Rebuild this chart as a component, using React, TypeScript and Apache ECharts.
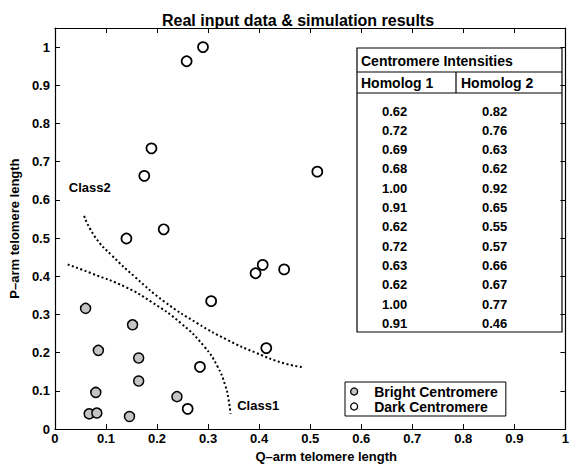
import React, { useEffect, useRef } from "react";
import * as echarts from "echarts";

const brightPoints: number[][] = [
  [0.06, 0.316], [0.085, 0.206], [0.152, 0.273], [0.164, 0.186], [0.164, 0.126],
  [0.08, 0.096], [0.239, 0.085], [0.067, 0.04], [0.082, 0.042], [0.146, 0.033],
];
const darkPoints: number[][] = [
  [0.29, 1.0], [0.258, 0.963], [0.189, 0.735], [0.175, 0.663], [0.514, 0.674],
  [0.14, 0.499], [0.213, 0.523], [0.407, 0.43], [0.393, 0.408], [0.449, 0.418],
  [0.306, 0.335], [0.414, 0.212], [0.284, 0.163], [0.26, 0.053],
];
const upperBoundary: number[][] = [
  [0.057, 0.558], [0.079, 0.502], [0.112, 0.454], [0.157, 0.398], [0.215, 0.333],
  [0.279, 0.277], [0.337, 0.234], [0.395, 0.199], [0.447, 0.173], [0.485, 0.162],
];
const lowerBoundary: number[][] = [
  [0.025, 0.431], [0.073, 0.407], [0.138, 0.372], [0.189, 0.333], [0.247, 0.277],
  [0.292, 0.217], [0.318, 0.165], [0.334, 0.113], [0.34, 0.078], [0.344, 0.04],
];
const classLabels: (number | string)[][] = [
  [0.027, 0.633, "Class2"],
  [0.357, 0.063, "Class1"],
];
const tableTitle = "Centromere Intensities";
const tableHeaders = ["Homolog 1", "Homolog 2"];
const homolog1 = ["0.62", "0.72", "0.69", "0.68", "1.00", "0.91", "0.62", "0.72", "0.63", "0.62", "1.00", "0.91"];
const homolog2 = ["0.82", "0.76", "0.63", "0.62", "0.92", "0.65", "0.55", "0.57", "0.66", "0.67", "0.77", "0.46"];
const seriesNames = ["Bright Centromere", "Dark Centromere"];

const FONT = "'Liberation Sans', Arial, Helvetica, sans-serif";

function buildTable(): any[] {
  const x0 = 357, y0 = 48, w = 205, h = 284;
  const colX = 456;
  const els: any[] = [
    { type: "rect", shape: { x: x0, y: y0, width: w, height: h }, style: { fill: "#fff", stroke: "#000", lineWidth: 1.2 } },
    { type: "line", shape: { x1: x0, y1: 72, x2: x0 + w, y2: 72 }, style: { stroke: "#000", lineWidth: 1.2 } },
    { type: "line", shape: { x1: x0, y1: 93, x2: x0 + w, y2: 93 }, style: { stroke: "#000", lineWidth: 1.2 } },
    { type: "line", shape: { x1: colX, y1: 72, x2: colX, y2: 93 }, style: { stroke: "#000", lineWidth: 1.2 } },
    { type: "text", x: 361, y: 61, style: { text: tableTitle, font: `bold 14px ${FONT}`, fill: "#000", verticalAlign: "middle" } },
    { type: "text", x: 361, y: 83, style: { text: tableHeaders[0], font: `bold 14px ${FONT}`, fill: "#000", verticalAlign: "middle" } },
    { type: "text", x: 461, y: 83, style: { text: tableHeaders[1], font: `bold 14px ${FONT}`, fill: "#000", verticalAlign: "middle" } },
  ];
  homolog1.forEach((v, i) => {
    const y = 111 + i * 19.3;
    els.push({ type: "text", x: 382, y, style: { text: v, font: `bold 13px ${FONT}`, fill: "#000", verticalAlign: "middle" } });
    els.push({ type: "text", x: 482, y, style: { text: homolog2[i], font: `bold 13px ${FONT}`, fill: "#000", verticalAlign: "middle" } });
  });
  return els;
}

export default function App() {
  const ref = useRef<HTMLDivElement>(null);
  useEffect(() => {
    if (!ref.current) return;
    const chart = echarts.init(ref.current, null, { renderer: "svg" });
    const axisLine = { show: true, onZero: false, lineStyle: { color: "#000", width: 1.2 } };
    const axisTick = { show: true, inside: true, length: 5, lineStyle: { color: "#000", width: 1 } };
    const labelStyle = { color: "#000", fontSize: 13, fontWeight: "bold", fontFamily: FONT };
    chart.setOption({
      animation: false,
      backgroundColor: "#fff",
      title: {
        text: "Real input data & simulation results",
        left: 157,
        top: 7,
        textStyle: { color: "#000", fontSize: 16, fontWeight: "bold", fontFamily: FONT },
      },
      grid: { left: 52, right: 2, top: 28, bottom: 34 },
      legend: {
        data: seriesNames,
        icon: "circle",
        orient: "vertical",
        left: 345,
        top: 382,
        borderColor: "#000",
        borderWidth: 1,
        borderRadius: 0,
        padding: [2, 8, 2, 5],
        itemWidth: 30,
        itemHeight: 7,
        itemGap: 0,
        itemStyle: { borderWidth: 1.3, opacity: 1 },
        textStyle: { color: "#000", fontSize: 14, lineHeight: 15, fontWeight: "bold", fontFamily: FONT },
      },
      xAxis: [
        {
          type: "value", min: 0, max: 1, interval: 0.1, position: "bottom",
          name: "Q–arm telomere length", nameLocation: "middle", nameGap: 17,
          nameTextStyle: { ...labelStyle, padding: [0, 0, 0, 32] },
          axisLine, axisTick, splitLine: { show: false },
          axisLabel: { ...labelStyle, margin: 3 },
        },
        {
          type: "value", min: 0, max: 1, interval: 0.1, position: "top",
          axisLine, axisTick, splitLine: { show: false }, axisLabel: { show: false },
        },
      ],
      yAxis: [
        {
          type: "value", min: 0, max: 1.05, interval: 0.1, position: "left",
          name: "P–arm telomere length", nameLocation: "middle", nameGap: 25,
          nameTextStyle: labelStyle,
          axisLine, axisTick, splitLine: { show: false },
          axisLabel: {
            ...labelStyle, margin: 5,
            formatter: (v: number) => (v > 1.0001 ? "" : String(+v.toFixed(2))),
          },
        },
        {
          type: "value", min: 0, max: 1.05, interval: 0.1, position: "right",
          axisLine, axisTick, splitLine: { show: false }, axisLabel: { show: false },
        },
      ],
      series: [
        {
          type: "line", data: upperBoundary, smooth: true, showSymbol: false, silent: true,
          lineStyle: { color: "#000", width: 2, type: [2, 2.5] },
        },
        {
          type: "line", data: lowerBoundary, smooth: true, showSymbol: false, silent: true,
          lineStyle: { color: "#000", width: 2, type: [2, 2.5] },
        },
        {
          name: seriesNames[0], type: "scatter", data: brightPoints, symbol: "circle", symbolSize: 10,
          itemStyle: { color: "#c4c4c4", borderColor: "#000", borderWidth: 1.5, opacity: 1 },
        },
        {
          name: seriesNames[1], type: "scatter", data: darkPoints, symbol: "circle", symbolSize: 10,
          itemStyle: { color: "#fff", borderColor: "#000", borderWidth: 1.7, opacity: 1 },
        },
        {
          type: "scatter", data: classLabels, symbol: "circle", symbolSize: 0.01, silent: true,
          itemStyle: { color: "#000", opacity: 1 },
          label: {
            show: true, position: "right", distance: 0,
            formatter: (p: any) => p.data[2],
            ...labelStyle,
            textBorderWidth: 0,
          },
        },
      ],
      graphic: buildTable(),
    });
    return () => chart.dispose();
  }, []);
  return (
    <div
      ref={ref}
      style={{ position: "absolute", left: 0, top: 0, width: 572, height: 468, background: "#fff" }}
    />
  );
}
